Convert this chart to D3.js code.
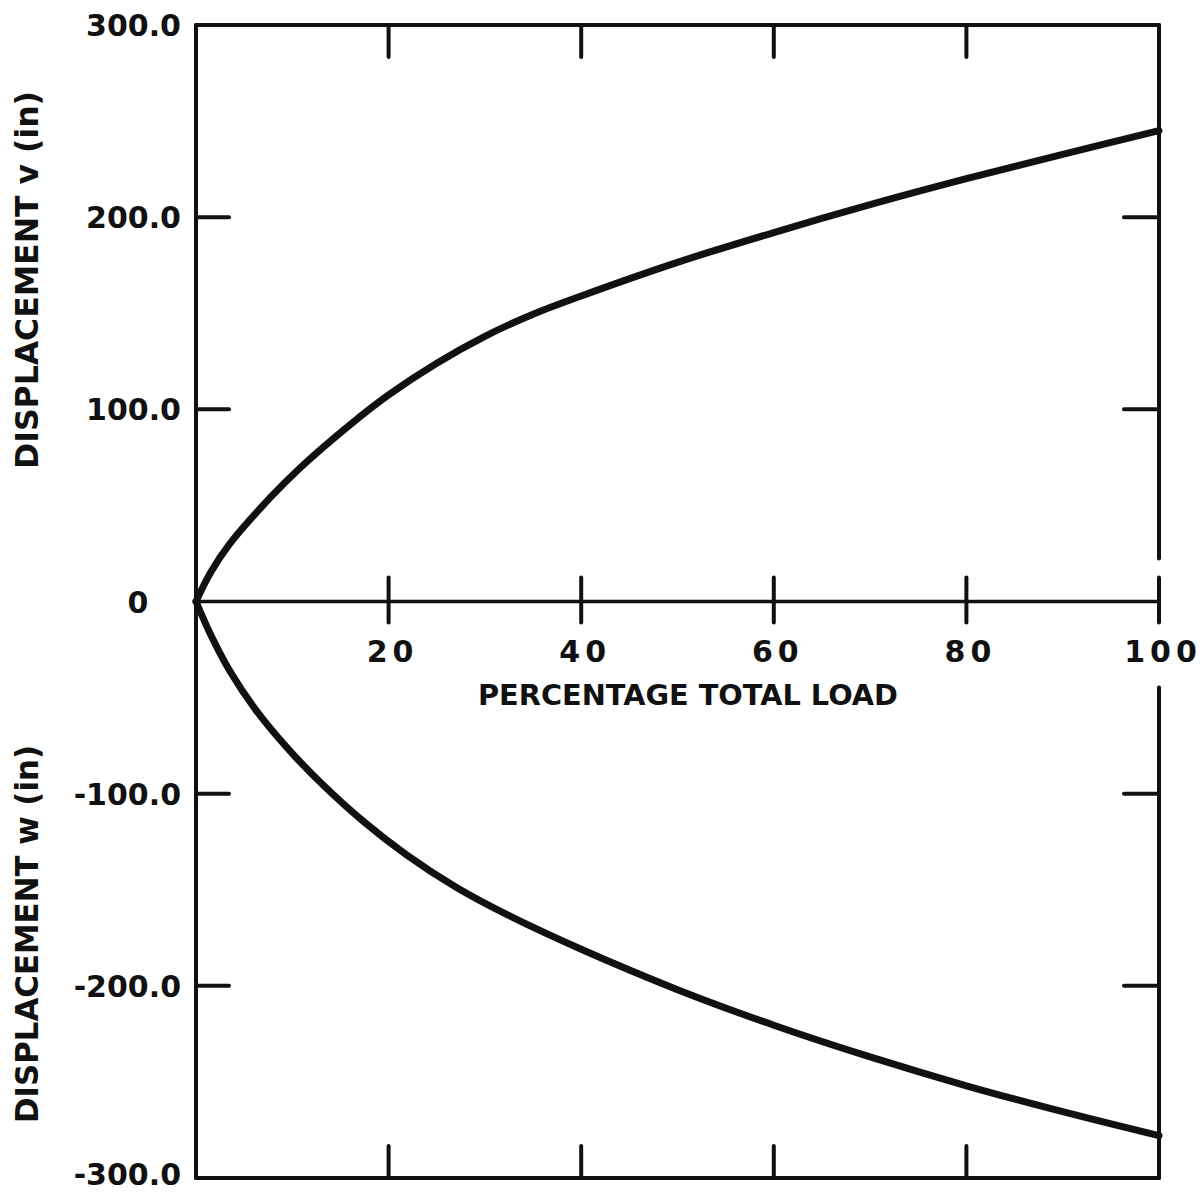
<!DOCTYPE html>
<html>
<head>
<meta charset="utf-8">
<script src="https://cdn.jsdelivr.net/npm/d3@7"></script>
<style>
  html, body { margin: 0; padding: 0; background: #fff; }
  svg text { font-family: "DejaVu Sans", sans-serif; font-weight: bold; fill: #111; }
</style>
</head>
<body>
<svg id="chart" width="1204" height="1194"></svg>
<script>
// values
const loadPctV  = [0, 1.5, 3.5, 7.7, 10.8, 16, 20, 25, 30, 35, 40, 50, 60, 70, 80, 90, 100];
const dispV     = [0, 15, 30, 54, 69.5, 92, 107.5, 124, 138, 149.5, 159, 176.5, 192, 206.5, 220, 232.7, 245];
const loadPctW  = [0, 1.5, 3.5, 6.3, 9.8, 13.2, 17.4, 21.9, 27.1, 32.3, 40, 50, 60, 70, 80, 90, 100];
const dispW     = [0, -17, -36, -57, -78, -95.5, -114.5, -132, -149, -163, -181, -202, -220.5, -237, -252, -265.5, -278];
const xTicks    = [20, 40, 60, 80, 100];
const yTicks    = [300, 200, 100, 0, -100, -200, -300];
const yTickText = ["300.0", "200.0", "100.0", "0", "-100.0", "-200.0", "-300.0"];
const xTitle    = "PERCENTAGE TOTAL LOAD";
const vTitle    = "DISPLACEMENT  v  (in)";
const wTitle    = "DISPLACEMENT  w  (in)";

const margin = {top: 25, right: 45, bottom: 16, left: 196},
      width = 1204, height = 1194;

const svg = d3.select('#chart');
svg.append('rect').attr('width', width).attr('height', height).attr('fill', '#fff');

const x = d3.scaleLinear().domain([0, 100]).range([margin.left, width - margin.right]);
const y = d3.scaleLinear().domain([-300, 300]).range([height - margin.bottom, margin.top]);

const ink = '#111';
const g = svg.append('g').attr('stroke', ink).attr('fill', 'none').attr('stroke-linecap', 'round');

// frame: top, left, bottom, right (right side broken around the "100" label)
g.append('line').attr('x1', x(0)).attr('x2', x(100)).attr('y1', y(300)).attr('y2', y(300)).attr('stroke-width', 4);
g.append('line').attr('x1', x(0)).attr('x2', x(0)).attr('y1', y(300)).attr('y2', y(-300)).attr('stroke-width', 4);
g.append('line').attr('x1', x(0)).attr('x2', x(100)).attr('y1', y(-300)).attr('y2', y(-300)).attr('stroke-width', 4);
g.append('line').attr('x1', x(100)).attr('x2', x(100)).attr('y1', y(300)).attr('y2', y(0) - 43).attr('stroke-width', 4);
g.append('line').attr('x1', x(100)).attr('x2', x(100)).attr('y1', y(0) + 86).attr('y2', y(-300)).attr('stroke-width', 4);

// zero line
g.append('line').attr('x1', x(0)).attr('x2', x(100)).attr('y1', y(0)).attr('y2', y(0)).attr('stroke-width', 3.5);

// ticks along top and bottom edges
const inner = xTicks.filter(function(d) { return d < 100; });
g.selectAll('.ttop').data(inner).enter().append('line')
    .attr('x1', function(d) { return x(d); }).attr('x2', function(d) { return x(d); })
    .attr('y1', y(300)).attr('y2', y(300) + 32).attr('stroke-width', 4);
g.selectAll('.tbot').data(inner).enter().append('line')
    .attr('x1', function(d) { return x(d); }).attr('x2', function(d) { return x(d); })
    .attr('y1', y(-300)).attr('y2', y(-300) - 32).attr('stroke-width', 4);

// ticks crossing the zero line
g.selectAll('.tzero').data(xTicks).enter().append('line')
    .attr('x1', function(d) { return x(d); }).attr('x2', function(d) { return x(d); })
    .attr('y1', y(0) - 24).attr('y2', y(0) + 21).attr('stroke-width', 4);

// ticks along left and right edges
const side = yTicks.filter(function(d) { return d !== 0 && Math.abs(d) < 300; });
g.selectAll('.tleft').data(side).enter().append('line')
    .attr('x1', x(0)).attr('x2', x(0) + 33)
    .attr('y1', function(d) { return y(d); }).attr('y2', function(d) { return y(d); }).attr('stroke-width', 4);
g.selectAll('.tright').data(side).enter().append('line')
    .attr('x1', x(100)).attr('x2', x(100) - 35)
    .attr('y1', function(d) { return y(d); }).attr('y2', function(d) { return y(d); }).attr('stroke-width', 4);

// curves
const line = d3.line()
    .x(function(d) { return x(d[0]); })
    .y(function(d) { return y(d[1]); })
    .curve(d3.curveCatmullRom.alpha(0.5));

g.append('path').datum(d3.zip(loadPctV, dispV)).attr('d', line).attr('stroke-width', 7);
g.append('path').datum(d3.zip(loadPctW, dispW)).attr('d', line).attr('stroke-width', 7);

// y tick labels (baseline kept inside the picture for the lowest one)
svg.selectAll('.ylab').data(yTicks).enter().append('text')
    .attr('x', function(d) { return d === 0 ? 138 : 181; })
    .attr('y', function(d) { return Math.min(y(d) + 11, height - 9); })
    .attr('text-anchor', function(d) { return d === 0 ? 'middle' : 'end'; })
    .attr('font-size', 30)
    .text(function(d, i) { return yTickText[i]; });

// x tick labels under the zero line
svg.selectAll('.xlab').data(xTicks).enter().append('text')
    .attr('x', function(d) { return x(d) + 4; })
    .attr('y', y(0) + 60)
    .attr('text-anchor', 'middle')
    .attr('font-size', 30)
    .attr('letter-spacing', 5)
    .text(function(d) { return d; });

svg.append('text')
    .attr('x', 688).attr('y', y(0) + 103)
    .attr('text-anchor', 'middle').attr('font-size', 29)
    .attr('textLength', 420).attr('lengthAdjust', 'spacingAndGlyphs')
    .text(xTitle);

// y titles
function yTitle(txt, cy) {
  svg.append('text')
      .attr('transform', 'translate(26,' + cy + ') rotate(-90)')
      .attr('dy', '0.36em')
      .attr('text-anchor', 'middle').attr('font-size', 32)
      .attr('textLength', 378).attr('lengthAdjust', 'spacingAndGlyphs')
      .text(txt);
}
yTitle(vTitle, 280);
yTitle(wTitle, 934);
</script>
</body>
</html>
